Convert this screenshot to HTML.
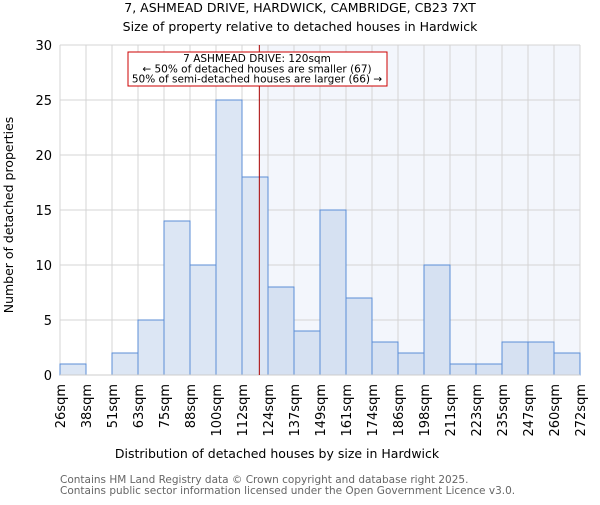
<!DOCTYPE html>
<html><head><meta charset="utf-8"><style>
body{margin:0;background:#fff}
svg{font-family:"DejaVu Sans","Liberation Sans",sans-serif}
</style></head><body>
<svg id="c" width="600" height="500">
<text x="300" y="12" font-size="12.5" text-anchor="middle">7, ASHMEAD DRIVE, HARDWICK, CAMBRIDGE, CB23 7XT</text>
<text x="300" y="31" font-size="12.5" text-anchor="middle">Size of property relative to detached houses in Hardwick</text>
<g id="grid"></g><g id="bars"></g><g id="axes"></g>
<text x="277" y="458" font-size="12.5" text-anchor="middle">Distribution of detached houses by size in Hardwick</text>
<text transform="translate(13,215) rotate(-90)" font-size="12.5" text-anchor="middle">Number of detached properties</text>
<text x="60" y="483" font-size="10.5" fill="#666">Contains HM Land Registry data © Crown copyright and database right 2025.</text>
<text x="60" y="494" font-size="10.5" fill="#666">Contains public sector information licensed under the Open Government Licence v3.0.</text>
</svg>
<script>
const categories=["26sqm","38sqm","51sqm","63sqm","75sqm","88sqm","100sqm","112sqm","124sqm","137sqm","149sqm","161sqm","174sqm","186sqm","198sqm","211sqm","223sqm","235sqm","247sqm","260sqm","272sqm"];
const counts=[1,0,2,5,14,10,25,18,8,4,15,7,3,2,10,1,1,3,3,2];
const yTicks=[0,5,10,15,20,25,30];
const propertySize=120;
const X0=60,X1=580,Y0=375,Y1=45,YMAX=30;
const NS="http://www.w3.org/2000/svg";
const bw=(X1-X0)/counts.length;
const xb=i=>X0+i*bw;
const y=v=>Y0-(Y0-Y1)*v/YMAX;
const binStart=i=>parseFloat(categories[i]);
function xs(v){for(let i=0;i<categories.length-1;i++){const a=binStart(i),b=binStart(i+1);if(v>=a&&v<=b)return xb(i)+bw*(v-a)/(b-a);}return X1;}
function mk(p,t,a){const e=document.createElementNS(NS,t);for(const k in a)e.setAttribute(k,a[k]);p.appendChild(e);return e;}
const g=document.getElementById('grid'),bars=document.getElementById('bars'),ax=document.getElementById('axes');
const lx=xs(propertySize);
const sh=mk(g,'rect',{x:lx,y:Y1,width:X1-lx,height:Y0-Y1,fill:'#f3f6fc'});


for(let i=0;i<=counts.length;i++){mk(g,'line',{x1:xb(i),x2:xb(i),y1:Y1,y2:Y0,stroke:'#d4d4d4','stroke-width':1});}
yTicks.forEach(t=>{mk(g,'line',{x1:X0,x2:X1,y1:y(t),y2:y(t),stroke:'#d4d4d4','stroke-width':1});
const tx=mk(ax,'text',{x:X0-8,y:y(t)+5,'font-size':13,'text-anchor':'end'});tx.textContent=t;

});
counts.forEach((v,i)=>{if(v<=0)return;const r=mk(bars,'rect',{x:xb(i),y:y(v),width:bw,height:Y0-y(v),fill:xb(i)>=lx?'#d6e1f2':'#dce6f4',stroke:'#5b8dd6','stroke-width':1});

});
categories.forEach((c,i)=>{const tx=mk(ax,'text',{transform:`translate(${xb(i)+5},384) rotate(-90)`,'font-size':13,'text-anchor':'end'});tx.textContent=c;

});
mk(ax,'line',{x1:X0,x2:X1,y1:Y0,y2:Y0,stroke:'#ccc'});
const ml=mk(ax,'line',{x1:lx,x2:lx,y1:Y1,y2:Y0,stroke:'#a00','stroke-width':1});


const box=mk(ax,'rect',{x:128,y:52,width:259,height:34,fill:'#fff',stroke:'#c00','stroke-width':1});


["7 ASHMEAD DRIVE: 120sqm","← 50% of detached houses are smaller (67)","50% of semi-detached houses are larger (66) →"].forEach((s,k)=>{const t=mk(ax,'text',{x:257,y:62+k*10.3,'font-size':10.5,'text-anchor':'middle'});t.textContent=s;

});
</script>
</body></html>
